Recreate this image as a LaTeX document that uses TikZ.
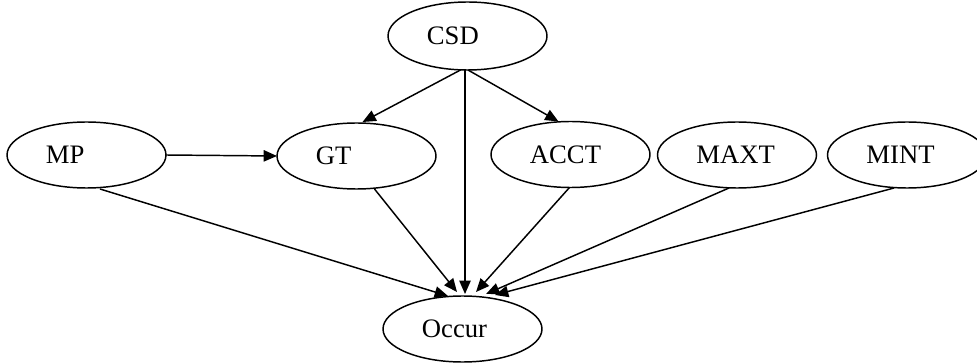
\documentclass[tikz,border=0pt]{standalone}
\usepackage{fontspec}
\setmainfont{Liberation Serif}
\usetikzlibrary{shapes.geometric,arrows.meta,calc}
\begin{document}
\begin{tikzpicture}[x=0.75pt,y=-0.75pt,
  ell/.style={ellipse,draw=black,line width=1.1pt,minimum width=119.25pt,minimum height=49.5pt,inner sep=0pt,outer sep=0pt},
  lbl/.style={anchor=west,inner sep=0pt,xshift=29pt,font=\fontsize{20}{24}\selectfont},
  conn/.style={draw=black,line width=1.1pt,-{Triangle[length=10pt,width=8.5pt]}}]
\useasboundingbox (0,0) rectangle (977,363);
% nodes
\node[ell,minimum height=51pt] (CSD) at (467.5,36) {};
\node[ell] (MP) at (86.5,155) {};
\node[ell] (GT) at (356.5,156) {};
\node[ell] (ACCT) at (570.5,154.5) {};
\node[ell] (MAXT) at (737,155) {};
\node[ell] (MINT) at (907,155) {};
\node[ell] (Occur) at (462.5,329) {};
% labels
\node[lbl] (tCSD) at (CSD.west) {CSD};
\node[lbl] (tMP) at (MP.west) {MP};
\node[lbl] (tGT) at (GT.west) {GT};
\node[lbl] (tACCT) at (ACCT.west) {ACCT};
\node[lbl] (tMAXT) at (MAXT.west) {MAXT};
\node[lbl] (tMINT) at (MINT.west) {MINT};
\node[lbl] (tOccur) at (Occur.west) {Occur};
% connectors
\draw[conn] (MP.east) -- (GT.west);
\draw[conn] ($(CSD.south)+(-7,0)$) -- ($(GT.north)+(6,-1)$);
\draw[conn] ($(CSD.south)+(0.5,0)$) -- ($(ACCT.north)+(-12,0)$);
\draw[conn] ($(CSD.south)+(-2.5,0)$) -- ($(Occur.north)+(2.5,-2)$);
\draw[conn] ($(MP.south)+(13.5,1)$) -- ($(Occur.north)+(-14.5,0)$);
\draw[conn] ($(GT.south)+(18,0)$) -- ($(Occur.north)+(-5.5,-4)$);
\draw[conn] ($(ACCT.south)+(-1,0)$) -- ($(Occur.north)+(13.5,-4)$);
\draw[conn] ($(MAXT.south)+(-8,0)$) -- ($(Occur.north)+(23.5,-2)$);
\draw[conn] ($(MINT.south)+(-13,0)$) -- ($(Occur.north)+(32.5,-1)$);
\end{tikzpicture}
\end{document}
